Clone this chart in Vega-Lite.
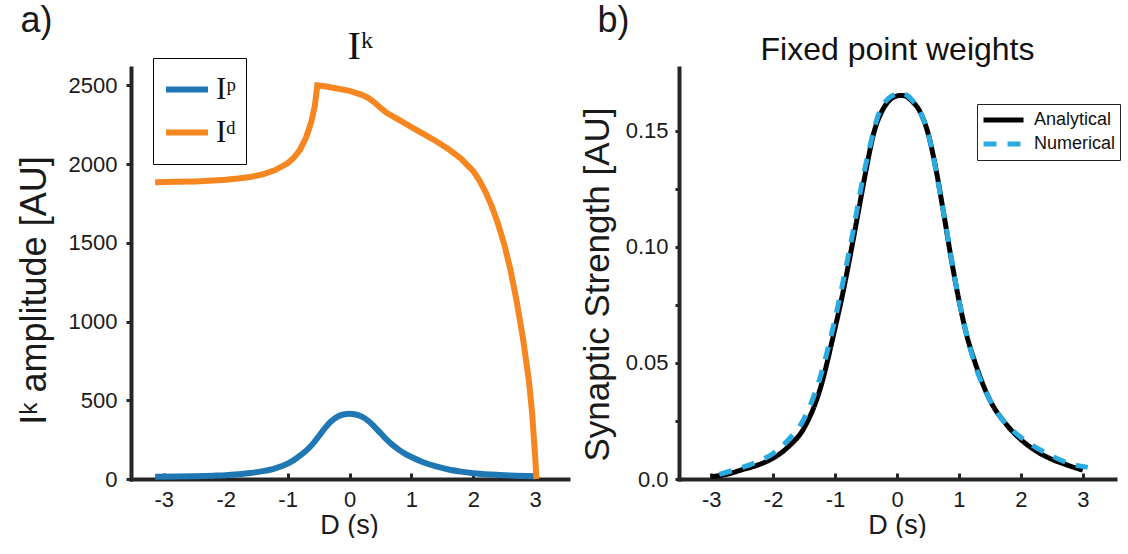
{
  "$schema": "https://vega.github.io/schema/vega-lite/v6.json",
  "padding": {"left": 16, "top": 2, "right": 0, "bottom": 0},
  "background": "white",
  "spacing": 11,
  "resolve": {"scale": {"color": "independent", "strokeDash": "independent"}, "legend": {"color": "independent", "strokeDash": "independent"}},
  "config": {
    "view": {"stroke": null},
    "font": "Liberation Sans",
    "axis": {
      "grid": false,
      "domainColor": "#262626",
      "domainWidth": 4,
      "domainCap": "square",
      "tickColor": "#262626",
      "tickWidth": 3,
      "labelFont": "Liberation Sans",
      "labelFontSize": 22,
      "labelColor": "#1a1a1a",
      "titleFont": "Liberation Sans",
      "titleFontWeight": "normal",
      "titleColor": "#1a1a1a",
      "titleFontSize": 27
    }
  },
  "datasets": {
    "left": [
      {"D": -3.14, "value": 14, "series": "Iᵖ"},
      {"D": -2.8, "value": 16, "series": "Iᵖ"},
      {"D": -2.5, "value": 18, "series": "Iᵖ"},
      {"D": -2.2, "value": 21, "series": "Iᵖ"},
      {"D": -2.0, "value": 24, "series": "Iᵖ"},
      {"D": -1.8, "value": 30, "series": "Iᵖ"},
      {"D": -1.6, "value": 38, "series": "Iᵖ"},
      {"D": -1.4, "value": 50, "series": "Iᵖ"},
      {"D": -1.2, "value": 68, "series": "Iᵖ"},
      {"D": -1.0, "value": 98, "series": "Iᵖ"},
      {"D": -0.9, "value": 120, "series": "Iᵖ"},
      {"D": -0.8, "value": 148, "series": "Iᵖ"},
      {"D": -0.7, "value": 180, "series": "Iᵖ"},
      {"D": -0.6, "value": 220, "series": "Iᵖ"},
      {"D": -0.5, "value": 270, "series": "Iᵖ"},
      {"D": -0.4, "value": 322, "series": "Iᵖ"},
      {"D": -0.3, "value": 365, "series": "Iᵖ"},
      {"D": -0.2, "value": 395, "series": "Iᵖ"},
      {"D": -0.1, "value": 410, "series": "Iᵖ"},
      {"D": 0.0, "value": 414, "series": "Iᵖ"},
      {"D": 0.1, "value": 410, "series": "Iᵖ"},
      {"D": 0.2, "value": 396, "series": "Iᵖ"},
      {"D": 0.3, "value": 370, "series": "Iᵖ"},
      {"D": 0.4, "value": 333, "series": "Iᵖ"},
      {"D": 0.5, "value": 292, "series": "Iᵖ"},
      {"D": 0.6, "value": 250, "series": "Iᵖ"},
      {"D": 0.7, "value": 215, "series": "Iᵖ"},
      {"D": 0.8, "value": 185, "series": "Iᵖ"},
      {"D": 0.9, "value": 160, "series": "Iᵖ"},
      {"D": 1.0, "value": 140, "series": "Iᵖ"},
      {"D": 1.2, "value": 105, "series": "Iᵖ"},
      {"D": 1.4, "value": 80, "series": "Iᵖ"},
      {"D": 1.6, "value": 60, "series": "Iᵖ"},
      {"D": 1.8, "value": 47, "series": "Iᵖ"},
      {"D": 2.0, "value": 37, "series": "Iᵖ"},
      {"D": 2.3, "value": 28, "series": "Iᵖ"},
      {"D": 2.6, "value": 22, "series": "Iᵖ"},
      {"D": 3.0, "value": 17, "series": "Iᵖ"},
      {"D": -3.14, "value": 1885, "series": "Iᵈ"},
      {"D": -2.8, "value": 1887, "series": "Iᵈ"},
      {"D": -2.5, "value": 1890, "series": "Iᵈ"},
      {"D": -2.2, "value": 1895, "series": "Iᵈ"},
      {"D": -2.0, "value": 1900, "series": "Iᵈ"},
      {"D": -1.8, "value": 1908, "series": "Iᵈ"},
      {"D": -1.6, "value": 1918, "series": "Iᵈ"},
      {"D": -1.4, "value": 1935, "series": "Iᵈ"},
      {"D": -1.2, "value": 1962, "series": "Iᵈ"},
      {"D": -1.0, "value": 2005, "series": "Iᵈ"},
      {"D": -0.9, "value": 2040, "series": "Iᵈ"},
      {"D": -0.8, "value": 2090, "series": "Iᵈ"},
      {"D": -0.7, "value": 2170, "series": "Iᵈ"},
      {"D": -0.62, "value": 2265, "series": "Iᵈ"},
      {"D": -0.56, "value": 2370, "series": "Iᵈ"},
      {"D": -0.52, "value": 2500, "series": "Iᵈ"},
      {"D": -0.4, "value": 2494, "series": "Iᵈ"},
      {"D": -0.2, "value": 2480, "series": "Iᵈ"},
      {"D": 0.0, "value": 2465, "series": "Iᵈ"},
      {"D": 0.2, "value": 2440, "series": "Iᵈ"},
      {"D": 0.3, "value": 2420, "series": "Iᵈ"},
      {"D": 0.4, "value": 2392, "series": "Iᵈ"},
      {"D": 0.5, "value": 2358, "series": "Iᵈ"},
      {"D": 0.6, "value": 2325, "series": "Iᵈ"},
      {"D": 0.8, "value": 2280, "series": "Iᵈ"},
      {"D": 1.0, "value": 2235, "series": "Iᵈ"},
      {"D": 1.2, "value": 2190, "series": "Iᵈ"},
      {"D": 1.4, "value": 2145, "series": "Iᵈ"},
      {"D": 1.6, "value": 2095, "series": "Iᵈ"},
      {"D": 1.8, "value": 2035, "series": "Iᵈ"},
      {"D": 2.0, "value": 1955, "series": "Iᵈ"},
      {"D": 2.1, "value": 1895, "series": "Iᵈ"},
      {"D": 2.2, "value": 1820, "series": "Iᵈ"},
      {"D": 2.3, "value": 1730, "series": "Iᵈ"},
      {"D": 2.4, "value": 1620, "series": "Iᵈ"},
      {"D": 2.5, "value": 1490, "series": "Iᵈ"},
      {"D": 2.6, "value": 1330, "series": "Iᵈ"},
      {"D": 2.7, "value": 1130, "series": "Iᵈ"},
      {"D": 2.8, "value": 900, "series": "Iᵈ"},
      {"D": 2.9, "value": 620, "series": "Iᵈ"},
      {"D": 2.95, "value": 420, "series": "Iᵈ"},
      {"D": 3.0, "value": 140, "series": "Iᵈ"},
      {"D": 3.02, "value": 0, "series": "Iᵈ"}
    ],
    "right": [
      {"D": -3.0, "value": 0.001, "series": "Analytical"},
      {"D": -2.75, "value": 0.002, "series": "Analytical"},
      {"D": -2.5, "value": 0.004, "series": "Analytical"},
      {"D": -2.25, "value": 0.006, "series": "Analytical"},
      {"D": -2.0, "value": 0.009, "series": "Analytical"},
      {"D": -1.75, "value": 0.014, "series": "Analytical"},
      {"D": -1.5, "value": 0.022, "series": "Analytical"},
      {"D": -1.25, "value": 0.038, "series": "Analytical"},
      {"D": -1.0, "value": 0.065, "series": "Analytical"},
      {"D": -0.875, "value": 0.08, "series": "Analytical"},
      {"D": -0.75, "value": 0.097, "series": "Analytical"},
      {"D": -0.625, "value": 0.115, "series": "Analytical"},
      {"D": -0.5, "value": 0.133, "series": "Analytical"},
      {"D": -0.375, "value": 0.149, "series": "Analytical"},
      {"D": -0.25, "value": 0.158, "series": "Analytical"},
      {"D": -0.125, "value": 0.163, "series": "Analytical"},
      {"D": 0.0, "value": 0.165, "series": "Analytical"},
      {"D": 0.05, "value": 0.1652, "series": "Analytical"},
      {"D": 0.125, "value": 0.165, "series": "Analytical"},
      {"D": 0.25, "value": 0.1625, "series": "Analytical"},
      {"D": 0.375, "value": 0.158, "series": "Analytical"},
      {"D": 0.5, "value": 0.149, "series": "Analytical"},
      {"D": 0.625, "value": 0.134, "series": "Analytical"},
      {"D": 0.75, "value": 0.115, "series": "Analytical"},
      {"D": 0.875, "value": 0.095, "series": "Analytical"},
      {"D": 1.0, "value": 0.077, "series": "Analytical"},
      {"D": 1.125, "value": 0.062, "series": "Analytical"},
      {"D": 1.25, "value": 0.051, "series": "Analytical"},
      {"D": 1.5, "value": 0.034, "series": "Analytical"},
      {"D": 1.75, "value": 0.024, "series": "Analytical"},
      {"D": 2.0, "value": 0.017, "series": "Analytical"},
      {"D": 2.25, "value": 0.012, "series": "Analytical"},
      {"D": 2.5, "value": 0.0085, "series": "Analytical"},
      {"D": 2.75, "value": 0.006, "series": "Analytical"},
      {"D": 3.0, "value": 0.0038, "series": "Analytical"},
      {"D": -2.87, "value": 0.002, "series": "Numerical"},
      {"D": -2.5, "value": 0.005, "series": "Numerical"},
      {"D": -2.25, "value": 0.0075, "series": "Numerical"},
      {"D": -2.0, "value": 0.011, "series": "Numerical"},
      {"D": -1.75, "value": 0.017, "series": "Numerical"},
      {"D": -1.5, "value": 0.026, "series": "Numerical"},
      {"D": -1.25, "value": 0.043, "series": "Numerical"},
      {"D": -1.0, "value": 0.069, "series": "Numerical"},
      {"D": -0.75, "value": 0.101, "series": "Numerical"},
      {"D": -0.5, "value": 0.136, "series": "Numerical"},
      {"D": -0.25, "value": 0.16, "series": "Numerical"},
      {"D": 0.0, "value": 0.166, "series": "Numerical"},
      {"D": 0.05, "value": 0.1663, "series": "Numerical"},
      {"D": 0.25, "value": 0.163, "series": "Numerical"},
      {"D": 0.5, "value": 0.149, "series": "Numerical"},
      {"D": 0.75, "value": 0.115, "series": "Numerical"},
      {"D": 1.0, "value": 0.077, "series": "Numerical"},
      {"D": 1.25, "value": 0.05, "series": "Numerical"},
      {"D": 1.5, "value": 0.034, "series": "Numerical"},
      {"D": 1.75, "value": 0.024, "series": "Numerical"},
      {"D": 2.0, "value": 0.018, "series": "Numerical"},
      {"D": 2.5, "value": 0.01, "series": "Numerical"},
      {"D": 2.75, "value": 0.007, "series": "Numerical"},
      {"D": 3.08, "value": 0.005, "series": "Numerical"}
    ]
  },
  "hconcat": [
    {
      "width": 437,
      "height": 411,
      "data": {"name": "left"},
      "resolve": {"axis": {"x": "independent", "y": "independent"}},
      "layer": [
        {
          "transform": [{"filter": "datum.series === 'Iᵖ'"}],
          "mark": {"type": "line", "strokeWidth": 6, "strokeCap": "butt", "interpolate": "monotone"},
          "encoding": {
            "x": {"field": "D", "type": "quantitative",
              "scale": {"domain": [-3.53, 3.53], "nice": false, "zero": false},
              "axis": {"values": [-3, -2, -1, 0, 1, 2, 3], "labelExpr": "'' + datum.value", "tickSize": -6, "labelPadding": 16,
                "title": "D (s)", "titleX": 218, "titleY": 46, "titleAlign": "center", "titleBaseline": "middle"}},
            "y": {"field": "value", "type": "quantitative",
              "scale": {"domain": [0, 2610], "nice": false},
              "axis": {"values": [0, 500, 1000, 1500, 2000, 2500], "labelExpr": "'' + datum.value", "tickSize": 5, "labelPadding": 9,
                "title": "Iᵏ amplitude [AU]", "titleFontSize": 36, "titleAngle": -90, "titleX": -97, "titleY": 222, "titleAlign": "center", "titleBaseline": "middle"}},
            "color": {"field": "series", "type": "nominal",
              "scale": {"domain": ["Iᵖ", "Iᵈ"], "range": ["#1f77b4", "#f6861f"]},
              "legend": {"orient": "none", "legendX": 22, "legendY": -10, "title": null,
                "strokeColor": "#000", "fillColor": "#fff", "padding": 10,
                "symbolType": "stroke", "symbolStrokeWidth": 6, "symbolSize": 1764,
                "clipHeight": 43, "rowPadding": 0, "labelOffset": 5,
                "labelFont": "Liberation Serif, DejaVu Serif", "labelFontSize": 31, "labelColor": "#111"}}
          }
        },
        {
          "transform": [{"filter": "datum.series === 'Iᵈ'"}],
          "mark": {"type": "line", "strokeWidth": 6, "strokeCap": "butt"},
          "encoding": {
            "x": {"field": "D", "type": "quantitative",
              "axis": {"orient": "top", "domain": false, "ticks": false, "labels": false,
                "title": "Iᵏ", "titleFont": "Liberation Serif, DejaVu Serif", "titleFontSize": 40, "titleColor": "#111",
                "titleX": 229, "titleY": -10, "titleAlign": "center", "titleBaseline": "alphabetic"}},
            "y": {"field": "value", "type": "quantitative",
              "axis": {"orient": "right", "domain": false, "ticks": false, "labels": false,
                "title": "a)", "titleFontSize": 36, "titleAngle": 0,
                "titleX": -548, "titleY": -48, "titleAlign": "left", "titleBaseline": "middle"}},
            "color": {"field": "series", "type": "nominal"}
          }
        }
      ]
    },
    {
      "width": 436,
      "height": 411,
      "data": {"name": "right"},
      "resolve": {"axis": {"x": "independent", "y": "independent"}},
      "layer": [
        {
          "transform": [{"filter": "datum.series === 'Analytical'"}],
          "mark": {"type": "line", "strokeWidth": 5, "interpolate": "monotone"},
          "encoding": {
            "x": {"field": "D", "type": "quantitative",
              "scale": {"domain": [-3.52, 3.52], "nice": false, "zero": false},
              "axis": {"values": [-3, -2, -1, 0, 1, 2, 3], "labelExpr": "'' + datum.value", "tickSize": -6, "labelPadding": 16,
                "title": "D (s)", "titleX": 218, "titleY": 46, "titleAlign": "center", "titleBaseline": "middle"}},
            "y": {"field": "value", "type": "quantitative",
              "scale": {"domain": [0, 0.177], "nice": false},
              "axis": {"values": [0, 0.025, 0.05, 0.075, 0.1, 0.125, 0.15], "tickSize": 4, "labelPadding": 7,
                "labelExpr": "datum.value == 0 ? '0.0' : (round(datum.value * 1000) % 50 == 0 ? format(datum.value, '.2f') : '')",
                "title": "Synaptic Strength [AU]", "titleFontSize": 35, "titleAngle": -90, "titleX": -82, "titleY": 216, "titleAlign": "center", "titleBaseline": "middle"}},
            "color": {"field": "series", "type": "nominal",
              "scale": {"domain": ["Analytical", "Numerical"], "range": ["#000000", "#29abe2"]},
              "legend": {"orient": "none", "legendX": 298, "legendY": 36, "title": null,
                "strokeColor": "#222", "fillColor": "#fff", "padding": 4,
                "symbolType": "stroke", "symbolStrokeWidth": 5, "symbolSize": 1600,
                "clipHeight": 24, "rowPadding": 0, "labelOffset": 8,
                "labelFont": "Liberation Sans", "labelFontSize": 18, "labelColor": "#111"}},
            "strokeDash": {"field": "series", "type": "nominal",
              "scale": {"domain": ["Analytical", "Numerical"], "range": [[1, 0], [13, 11]]},
              "legend": {"orient": "none", "legendX": 298, "legendY": 36, "title": null,
                "strokeColor": "#222", "fillColor": "#fff", "padding": 4,
                "symbolType": "stroke", "symbolStrokeWidth": 5, "symbolSize": 1600,
                "clipHeight": 24, "rowPadding": 0, "labelOffset": 8,
                "labelFont": "Liberation Sans", "labelFontSize": 18, "labelColor": "#111"}}
          }
        },
        {
          "transform": [{"filter": "datum.series === 'Numerical'"}],
          "mark": {"type": "line", "strokeWidth": 5, "interpolate": "monotone"},
          "encoding": {
            "x": {"field": "D", "type": "quantitative",
              "axis": {"orient": "top", "domain": false, "ticks": false, "labels": false,
                "title": "Fixed point weights", "titleFontSize": 32, "titleColor": "#111",
                "titleX": 218, "titleY": -9, "titleAlign": "center", "titleBaseline": "alphabetic"}},
            "y": {"field": "value", "type": "quantitative",
              "axis": {"orient": "right", "domain": false, "ticks": false, "labels": false,
                "title": "b)", "titleFontSize": 36, "titleAngle": 0,
                "titleX": -518, "titleY": -48, "titleAlign": "left", "titleBaseline": "middle"}},
            "color": {"field": "series", "type": "nominal"},
            "strokeDash": {"field": "series", "type": "nominal"}
          }
        }
      ]
    }
  ]
}
